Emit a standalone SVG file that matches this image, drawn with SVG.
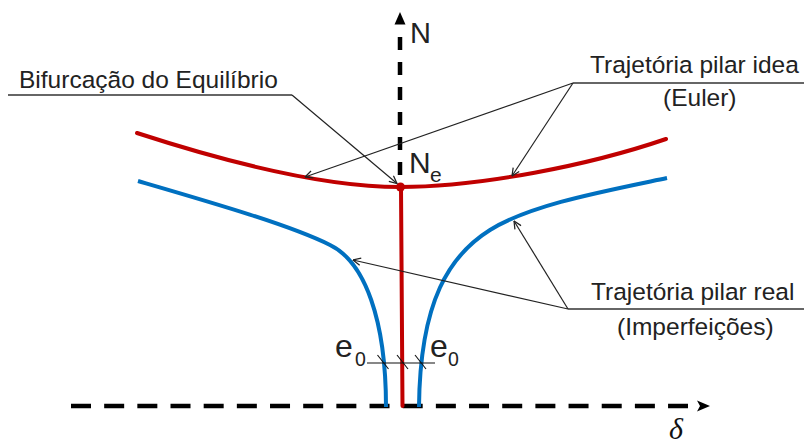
<svg xmlns="http://www.w3.org/2000/svg" width="804" height="443" viewBox="0 0 804 443">
<style>
  .txt { font-family: "Liberation Sans", Arial, sans-serif; fill: #222; }
  .lbl { font-size: 24.5px; }
  .axis { stroke: #000; stroke-width: 4.5; fill: none; }
  .red { stroke: #C00000; stroke-width: 4; fill: none; stroke-linecap: round; }
  .blue { stroke: #0070C0; stroke-width: 4; fill: none; stroke-linecap: butt; }
  .lead { stroke: #222; stroke-width: 1.2; fill: none; }
  .under { stroke: #333; stroke-width: 1.5; fill: none; }
  .tick { stroke: #111; stroke-width: 1.1; fill: none; }
</style>
<defs>
  <marker id="arr" viewBox="0 0 10 10" refX="9.5" refY="5" markerWidth="9" markerHeight="9" markerUnits="userSpaceOnUse" orient="auto">
    <path d="M1,1 L9.5,5 L1,9" fill="none" stroke="#222" stroke-width="1.4"/>
  </marker>
</defs>
<rect width="804" height="443" fill="#fff"/>

<g id="axes">
  <line class="axis" x1="400" y1="37" x2="400" y2="190" stroke-dasharray="13 12"/>
  <polygon points="400,12 405.5,24.5 394.5,24.5" fill="#000"/>
  <line class="axis" x1="71" y1="406" x2="688" y2="406" stroke-dasharray="20 13.17"/>
  <path d="M710,406 L697,400.5 L700,406 L697,411.5 Z" fill="#000"/>
  <text class="txt" x="410" y="43" font-size="29px">N</text>
  <text x="669" y="439" font-family="Liberation Serif, 'DejaVu Serif', serif" font-style="italic" font-size="30px" fill="#111">δ</text>
</g>

<g id="curve-ideal">
  <path class="red" d="M137,133 C220,160 320,187 400,187 C480,187 590,165 666,139"/>
  <line class="red" x1="401" y1="187" x2="402.5" y2="406" stroke-linecap="butt"/>
  <circle cx="400.5" cy="187" r="4.5" fill="#C00000"/>
  <text class="txt" x="409" y="173" font-size="30px">N</text>
  <text class="txt" x="430" y="182" font-size="21px">e</text>
</g>

<g id="curve-real">
  <path class="blue" d="M138,181 C210,202 290,225 330,245 C365,262 386,320 386,407"/>
  <path class="blue" d="M667,178 C600,192 530,205 490,230 C450,255 420,300 419,407"/>
</g>

<g id="eccentricity">
  <line class="tick" x1="367" y1="363" x2="435" y2="363"/>
  <line class="tick" x1="377.5" y1="355" x2="388.5" y2="369"/>
  <line class="tick" x1="397" y1="355" x2="408" y2="369"/>
  <line class="tick" x1="415" y1="355" x2="426" y2="369"/>
  <text class="txt" x="335" y="357" font-size="32px">e</text>
  <text class="txt" x="355" y="366" font-size="19.5px">0</text>
  <text class="txt" x="430" y="357" font-size="32px">e</text>
  <text class="txt" x="448" y="366" font-size="19.5px">0</text>
</g>

<g id="label-bifurcacao">
  <text class="txt lbl" x="19" y="88">Bifurcação do Equilíbrio</text>
</g>
<g id="label-ideal">
  <text class="txt lbl" x="590" y="73">Trajetória pilar idea</text>
  <text class="txt lbl" x="663" y="106">(Euler)</text>
</g>
<g id="label-real">
  <text class="txt lbl" x="591" y="300">Trajetória pilar real</text>
  <text class="txt lbl" x="617" y="335">(Imperfeições)</text>
</g>

<g id="connectors">
  <polyline class="under" points="8,95 292,95"/>
  <line class="lead" x1="292" y1="95" x2="397" y2="183.5" marker-end="url(#arr)"/>
  <line class="under" x1="573" y1="83" x2="804" y2="83"/>
  <line class="lead" x1="573" y1="83" x2="305" y2="177" marker-end="url(#arr)"/>
  <line class="lead" x1="573" y1="83" x2="512" y2="176" marker-end="url(#arr)"/>
  <line class="under" x1="568" y1="309" x2="804" y2="309"/>
  <line class="lead" x1="568" y1="309" x2="514" y2="221" marker-end="url(#arr)"/>
  <line class="lead" x1="568" y1="309" x2="353" y2="260" marker-end="url(#arr)"/>
</g>
</svg>
